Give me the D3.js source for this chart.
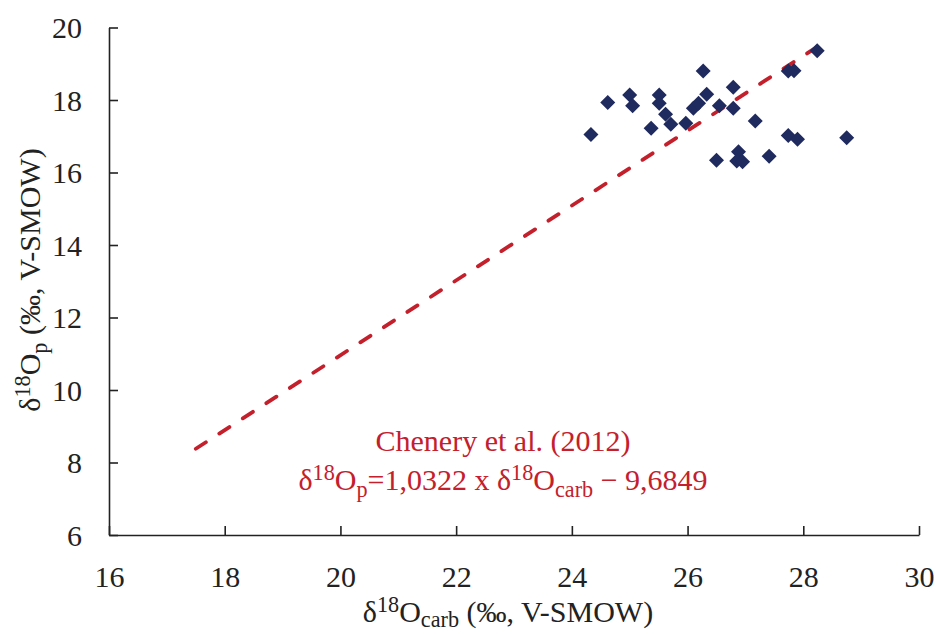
<!DOCTYPE html>
<html><head><meta charset="utf-8">
<script src="https://cdn.jsdelivr.net/npm/d3@7"></script>
<style>body{margin:0;background:#fff}svg{display:block}</style>
</head><body>
<svg id="c" width="936" height="634"></svg>
<script>
const carbValues = [24.33,24.62,25.00,25.05,25.37,25.51,25.51,25.62,25.71,25.97,26.10,26.19,26.27,26.33,26.55,26.50,26.79,26.79,26.88,26.85,26.95,27.17,27.41,27.74,27.90,27.74,27.84,28.24,28.75];
const phosValues = [17.05,17.93,18.14,17.84,17.22,18.14,17.91,17.61,17.33,17.36,17.77,17.91,18.80,18.16,17.84,16.34,18.35,17.77,16.57,16.32,16.30,17.42,16.45,17.02,16.92,18.80,18.81,19.36,16.96];
const xTicks = [16,18,20,22,24,26,28,30];
const yTicks = [6,8,10,12,14,16,18,20];
const lineSlope = 1.0322, lineIntercept = -9.6849;
const lineRange = [17.5, 28.3];

const svg = d3.select("#c");
const font = "Liberation Serif, Times New Roman, serif";
const x = d3.scaleLinear().domain([16,30]).range([109,919]);
const y = d3.scaleLinear().domain([6,20]).range([535,27.5]);
const axisColor = "#222";
const S = 30;

// axes
const xAxis = svg.append("g").attr("transform","translate(0,535)")
  .call(d3.axisBottom(x).tickValues(xTicks).tickSizeInner(-9).tickSizeOuter(0));
const yAxis = svg.append("g").attr("transform","translate(109,0)")
  .call(d3.axisLeft(y).tickValues(yTicks).tickSizeInner(-9).tickSizeOuter(0).tickPadding(27));
[xAxis,yAxis].forEach(g=>{
  g.select(".domain").attr("stroke",axisColor).attr("stroke-width",1.6);
  g.selectAll(".tick line").attr("stroke",axisColor).attr("stroke-width",1.6);
  g.selectAll(".tick text").attr("font-family",font).attr("font-size",S).attr("fill","#222");
});
xAxis.selectAll(".tick text").attr("y",52).attr("dy",0);
yAxis.selectAll(".tick text").attr("dy","0.34em");

// regression line
const lp = lineRange.map(v=>[x(v), y(lineSlope*v+lineIntercept)]);
svg.append("path").attr("d", d3.line()(lp))
  .attr("stroke","#c4202c").attr("stroke-width",3.8).attr("fill","none")
  .attr("stroke-dasharray","12,16").attr("stroke-linecap","round");

// points
const pts = carbValues.map((c,i)=>[c,phosValues[i]]);
svg.append("g").selectAll("path").data(pts).join("path")
  .attr("transform",d=>`translate(${x(d[0])},${y(d[1])})`)
  .attr("d","M0,-7.5L7.5,0L0,7.5L-7.5,0Z")
  .attr("fill","#1f2a5f");

// helper for rich text
const SUP = 0.74;
function rich(sel, parts, size, subShift){
  parts.forEach(p=>{
    const t = sel.append("tspan").text(p.t);
    if(p.s==="sup"){ t.attr("font-size",size*SUP).attr("dy",-size*0.34); }
    else if(p.s==="sub"){ t.attr("font-size",size*SUP).attr("dy",size*subShift); }
    else if(p.back){ t.attr("dy",p.back); }
  });
}
// x title
const xt = svg.append("text").attr("x",508).attr("y",622).attr("text-anchor","middle")
  .attr("font-family",font).attr("font-size",S).attr("fill","#222");
rich(xt,[{t:"δ"},{t:"18",s:"sup"},{t:"O",back:S*0.34},{t:"carb",s:"sub"},{t:" (‰, V-SMOW)",back:-S*0.18}],S,0.18);

// y title
const yt = svg.append("text").attr("transform","translate(40,280) rotate(-90)").attr("text-anchor","middle")
  .attr("font-family",font).attr("font-size",S).attr("fill","#222");
rich(yt,[{t:"δ"},{t:"18",s:"sup"},{t:"O",back:S*0.34},{t:"p",s:"sub"},{t:" (‰, V-SMOW)",back:-S*0.22}],S,0.22);

// annotation
const red = "#c4202c";
svg.append("text").attr("x",503).attr("y",451).attr("text-anchor","middle")
  .attr("font-family",font).attr("font-size",S).attr("fill",red).text("Chenery et al. (2012)");
const an = svg.append("text").attr("x",503).attr("y",490).attr("text-anchor","middle")
  .attr("font-family",font).attr("font-size",S).attr("fill",red);
rich(an,[{t:"δ"},{t:"18",s:"sup"},{t:"O",back:S*0.34},{t:"p",s:"sub"},{t:"=1,0322 x δ",back:-S*0.22},{t:"18",s:"sup"},{t:"O",back:S*0.34},{t:"carb",s:"sub"},{t:" − 9,6849",back:-S*0.22}],S,0.22);
</script>
</body></html>
